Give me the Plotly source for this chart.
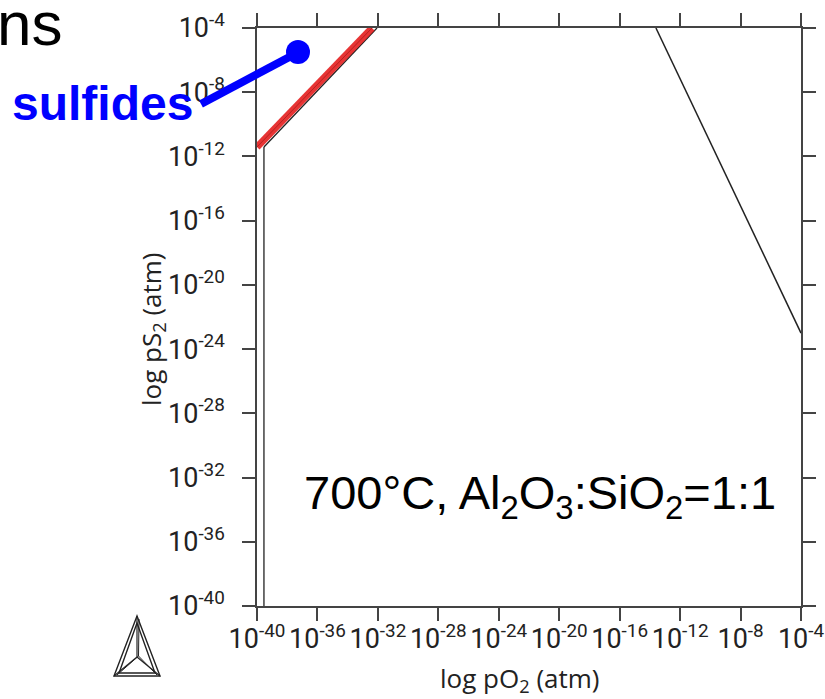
import plotly.graph_objects as go

# ---- data (log10 units) ----
tick_vals = [-40, -36, -32, -28, -24, -20, -16, -12, -8, -4]
tick_text = ["10<sup>%d</sup>" % v for v in tick_vals]

# phase boundaries (log pO2, log pS2)
left_vert_x = [-39.54, -39.54]
left_vert_y = [-40.0, -11.41]
sulfide_black_x = [-39.54, -32.06]
sulfide_black_y = [-11.41, -4.0]
sulfide_red_x = [-40.0, -32.39]
sulfide_red_y = [-11.41, -4.0]
right_line_x = [-13.6, -4.0]
right_line_y = [-4.0, -23.0]

W, H = 825, 699
L, R, T, B = 257, 801, 28, 606


def px(x):
    return (x - L) / (R - L)


def py(y):
    return (B - y) / (B - T)


fig = go.Figure()
fig.add_trace(go.Scatter(x=left_vert_x, y=left_vert_y, mode="lines",
                         line=dict(color="#222", width=1.3), cliponaxis=False,
                         showlegend=False, hoverinfo="skip"))
fig.add_trace(go.Scatter(x=sulfide_black_x, y=sulfide_black_y, mode="lines",
                         line=dict(color="#222", width=1.3), cliponaxis=False,
                         showlegend=False, hoverinfo="skip"))
fig.add_trace(go.Scatter(x=sulfide_red_x, y=sulfide_red_y, mode="lines",
                         line=dict(color="rgba(228,30,30,0.9)", width=7), cliponaxis=False,
                         showlegend=False, hoverinfo="skip"))
fig.add_trace(go.Scatter(x=sulfide_red_x, y=sulfide_red_y, mode="lines",
                         line=dict(color="rgba(150,20,20,0.6)", width=1), cliponaxis=False,
                         showlegend=False, hoverinfo="skip"))
fig.add_trace(go.Scatter(x=right_line_x, y=right_line_y, mode="lines",
                         line=dict(color="#222", width=1.5), cliponaxis=False,
                         showlegend=False, hoverinfo="skip"))

axis_common = dict(
    range=[-40, -4], tickmode="array", tickvals=tick_vals, ticktext=tick_text,
    showline=True, linecolor="#444", linewidth=1.5, mirror="ticks",
    ticks="outside", ticklen=13, tickwidth=1.5, tickcolor="#444",
    showgrid=False, zeroline=False, automargin=False, tickangle=0,
    ticklabeloverflow="allow",
    tickfont=dict(family="Roboto", size=27, color="#222"),
)

fig.update_layout(
    width=W, height=H, autosize=False,
    margin=dict(l=L, r=W - R, t=T, b=H - B, pad=0),
    plot_bgcolor="white", paper_bgcolor="white",
    xaxis=dict(**axis_common, ticklabelstandoff=-5),
    yaxis=dict(**axis_common, ticklabelstandoff=12),
    showlegend=False,
)

annotations = [
    dict(text="log pO<sub>2</sub> (atm)", x=px(520), y=py(679), xref="paper", yref="paper",
         showarrow=False, font=dict(family="Open Sans", size=26, color="#222"),
         xanchor="center", yanchor="middle"),
    dict(text="log pS<sub>2</sub> (atm)", x=px(152), y=py(329), xref="paper", yref="paper",
         showarrow=False, textangle=-90, font=dict(family="Open Sans", size=26, color="#222"),
         xanchor="center", yanchor="middle"),
    dict(text="700°C, Al<sub>2</sub>O<sub>3</sub>:SiO<sub>2</sub>=1:1", x=px(540), y=py(496),
         xref="paper", yref="paper", showarrow=False,
         font=dict(family="Liberation Sans", size=47, color="black"),
         xanchor="center", yanchor="middle"),
    dict(text="ns", x=px(64), y=py(24), xref="paper", yref="paper", showarrow=False,
         font=dict(family="Liberation Sans", size=62, color="black"),
         xanchor="right", yanchor="middle"),
    dict(text="<b>sulfides</b>", x=px(195), y=py(103), xref="paper", yref="paper", showarrow=False,
         font=dict(family="Liberation Sans", size=48, color="#0000FF"),
         xanchor="right", yanchor="middle"),
]
fig.update_layout(annotations=annotations)

shapes = [
    dict(type="line", xref="paper", yref="paper", x0=px(201), y0=py(104), x1=px(297), y1=py(53),
         line=dict(color="#0000FF", width=8)),
    dict(type="circle", xref="paper", yref="paper", x0=px(286), y0=py(64), x1=px(310), y1=py(40),
         fillcolor="#0000FF", line=dict(color="#0000FF", width=0)),
]

# Thermo-Calc style logo (decoration)
ax, ay = 137, 616
bl, br, by = 114, 160, 676
cx, cy = 137, 657


def tri(a, l, r, w=1.4):
    p = "M %f,%f L %f,%f L %f,%f Z" % (px(a[0]), py(a[1]), px(l[0]), py(l[1]), px(r[0]), py(r[1]))
    return dict(type="path", xref="paper", yref="paper", path=p, line=dict(color="#222", width=w))


shapes.append(tri((ax, ay), (bl, by), (br, by)))
shapes.append(tri((ax, ay + 7), (bl + 5, by - 3), (br - 5, by - 3)))
for (ex, ey) in [((ax, ay)), ((bl, by)), ((br, by))]:
    shapes.append(dict(type="line", xref="paper", yref="paper", x0=px(cx), y0=py(cy),
                       x1=px(ex), y1=py(ey), line=dict(color="#222", width=1.2)))
for (ex, ey) in [((ax + 2, ay + 3)), ((bl + 3, by - 1)), ((br - 3, by - 1))]:
    shapes.append(dict(type="line", xref="paper", yref="paper", x0=px(cx + 1.5), y0=py(cy - 1),
                       x1=px(ex), y1=py(ey), line=dict(color="#222", width=1.0)))
fig.update_layout(shapes=shapes)

fig.write_html("out.html")
